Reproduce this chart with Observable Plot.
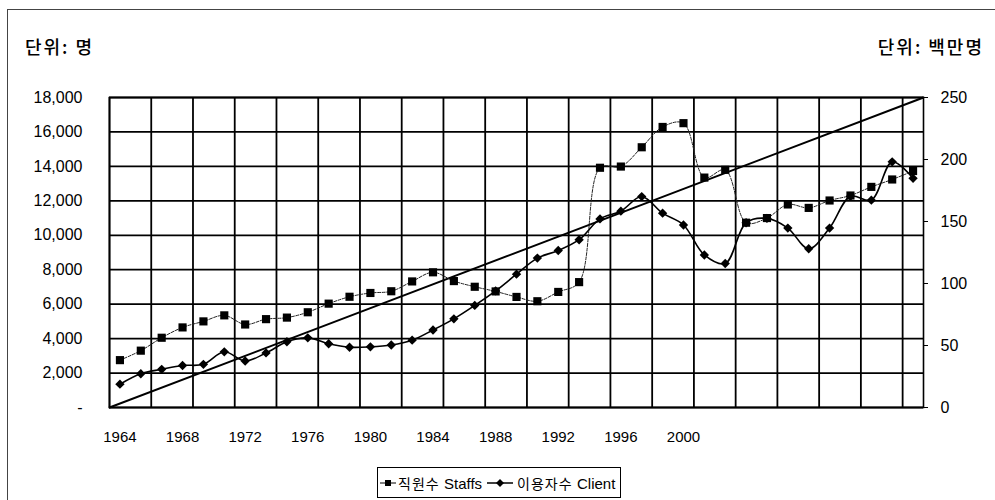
<!DOCTYPE html>
<html><head><meta charset="utf-8">
<script src="https://cdn.jsdelivr.net/npm/d3@7"></script>
<script src="https://cdn.jsdelivr.net/npm/@observablehq/plot@0.6"></script>
<style>
html,body{margin:0;padding:0;background:#fff;overflow:hidden;}
body{width:995px;height:500px;position:relative;font-family:"Liberation Sans","Noto Sans CJK KR",sans-serif;color:#000;}
#frame{position:absolute;left:7px;top:9px;width:1000px;height:500px;border-left:1px solid #444;border-top:1px solid #444;}
.unit{position:absolute;top:35px;font-family:"Noto Sans CJK KR",sans-serif;font-size:18px;line-height:22px;font-weight:500;letter-spacing:2px;}
#unitL{left:25px;}
#unitR{right:11px;}
#chart{position:absolute;left:0;top:80px;}
#legend{position:absolute;left:377px;top:467px;width:244px;height:31px;box-sizing:border-box;border:1px solid #000;}
#legend > *{position:absolute;top:50%;transform:translateY(-50%);white-space:nowrap;}
#legend .k{font-family:"Noto Sans CJK KR",sans-serif;font-size:14px;letter-spacing:1px;}
#legend .e{font-size:15px;}
</style></head><body>
<div id="frame"></div>
<div class="unit" id="unitL">단위: 명</div>
<div class="unit" id="unitR">단위: 백만명</div>
<div id="chart"></div>
<div id="legend">
  <svg style="left:2px" width="16" height="10"><line x1="0" y1="5" x2="16" y2="5" stroke="#000" stroke-width="1"/><rect x="5" y="2" width="6" height="6" fill="#000"/></svg>
  <span class="k" style="left:20px">직원수</span><span class="e" style="left:66px">Staffs</span>
  <svg style="left:109px" width="26" height="12"><line x1="0" y1="6" x2="26" y2="6" stroke="#000" stroke-width="1.5"/><path d="M13 2 L17 6 L13 10 L9 6 Z" fill="#000"/></svg>
  <span class="k" style="left:139px">이용자수</span><span class="e" style="left:199px">Client</span>
</div>
<script>
const years = [1964,1965,1966,1967,1968,1969,1970,1971,1972,1973,1974,1975,1976,1977,1978,1979,1980,1981,1982,1983,1984,1985,1986,1987,1988,1989,1990,1991,1992,1993,1994,1995,1996,1997,1998,1999,2000,2001,2002];
const staffs = [2750,3300,4050,4650,5000,5350,4820,5130,5220,5530,6030,6430,6650,6750,7320,7850,7340,7010,6740,6420,6170,6710,7280,13920,13990,15110,16290,16510,13350,13800,10730,11000,11790,11590,12020,12310,12810,13240,13730];
const clients = [18.8,27.2,30.8,33.9,34.8,44.9,37.5,44,53,56.2,51.4,48.6,48.9,50.4,54.3,62.5,71.5,82.3,94,107.5,120.5,126.6,135.3,152.1,158.3,170.1,156.7,147.2,123,116.1,149,152.5,144.7,128,144.7,170.3,167.2,198.1,184.8];
const leftTicks = [0,2000,4000,6000,8000,10000,12000,14000,16000,18000];
const rightTicks = [0,50,100,150,200,250];
const xTickPositions = [1964,1967,1970,1973,1976,1979,1982,1985,1988,1991];
const xTickLabels = ["1964","1968","1972","1976","1980","1984","1988","1992","1996","2000"];
const trend = [{year:1963.5, value:0},{year:2002.5, value:18000}];

const ratio = 18000/250;
const data = years.map((y,i)=>({year:y, staffs:staffs[i], clients:clients[i]}));
const gridYears = d3.range(1963.5, 2002, 2);
const fmt = d3.format(",");

const chart = Plot.plot({
  width: 995, height: 367,
  marginLeft: 109, marginRight: 72, marginTop: 17, marginBottom: 40,
  x: {domain: [1963.5, 2002.5]},
  y: {domain: [0, 18000]},
  style: {fontFamily: '"Liberation Sans","Noto Sans CJK KR",sans-serif', fontSize: "16px", color: "#000", background: "transparent", overflow: "visible"},
  marks: [
    Plot.ruleY(leftTicks, {stroke: "#000", strokeWidth: 1.8}),
    Plot.ruleX(gridYears, {stroke: "#000", strokeWidth: 1.8}),
    Plot.frame({stroke: "#000", strokeWidth: 1.6}),
    Plot.line(trend, {x: "year", y: "value", stroke: "#000", strokeWidth: 2}),
    Plot.line(data, {x: "year", y: "staffs", curve: "catmull-rom", stroke: "#222", strokeWidth: 1, strokeDasharray: "3,1.5"}),
    Plot.line(data, {x: "year", y: d => d.clients * ratio, curve: "catmull-rom", stroke: "#000", strokeWidth: 1.6}),
    Plot.dot(data, {x: "year", y: "staffs", symbol: "square", r: 4.6, fill: "#000", stroke: null}),
    Plot.dot(data, {x: "year", y: d => d.clients * ratio, symbol: "diamond2", r: 4.2, fill: "#000", stroke: null}),
    Plot.axisY(leftTicks, {anchor: "left", tickSize: 0, tickPadding: 27, fontSize: 16, tickFormat: d => d === 0 ? "-" : fmt(d), label: null}),
    Plot.axisY(rightTicks.map(v => v * ratio), {anchor: "right", tickSize: 4, tickPadding: 13, fontSize: 16, tickFormat: d => String(Math.round(d / ratio)), label: null}),
    Plot.axisX(xTickPositions, {anchor: "bottom", tickSize: 0, tickPadding: 24, fontSize: 15, fontFamily: '"Liberation Sans Narrow","Liberation Sans",sans-serif', tickFormat: d => xTickLabels[xTickPositions.indexOf(d)], label: null})
  ]
});
document.getElementById("chart").appendChild(chart);
</script>
</body></html>
